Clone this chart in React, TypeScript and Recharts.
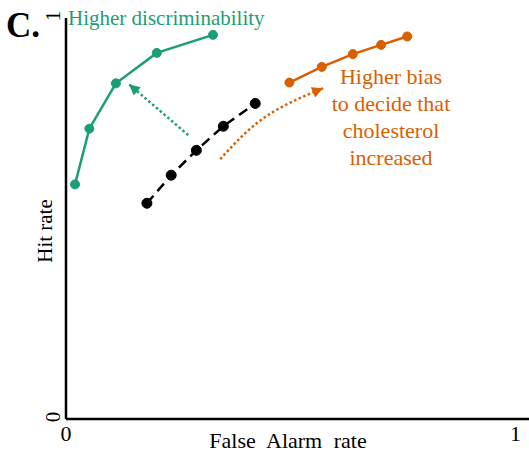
import React from "react";
import { LineChart, Line, XAxis, YAxis, Label } from "recharts";

const GREEN = "#1b9e77";
const ORANGE = "#d95f02";
const FONT = "'Liberation Serif', 'Times New Roman', serif";

// ROC points (false alarm rate, hit rate)
const greenFa = [0.02, 0.052, 0.111, 0.202, 0.327];
const greenHit = [0.585, 0.724, 0.837, 0.913, 0.958];
const blackFa = [0.18, 0.234, 0.29, 0.35, 0.421];
const blackHit = [0.538, 0.608, 0.67, 0.73, 0.787];
const orangeFa = [0.497, 0.569, 0.638, 0.701, 0.759];
const orangeHit = [0.839, 0.878, 0.91, 0.933, 0.954];

// arrows (start -> tip)
const greenArrowFa = [0.272, 0.14];
const greenArrowHit = [0.708, 0.835];
const orangeArrowFa = [0.343, 0.443, 0.572];
const orangeArrowHit = [0.648, 0.753, 0.825];

const xTicks = [0, 1];
const yTicks = [0, 1];
const biasLines = ["Higher bias", "to decide that", "cholesterol", "increased"];

const zip = (xs: number[], ys: number[]) => xs.map((x, i) => ({ x, y: ys[i] }));

const green = zip(greenFa, greenHit);
const black = zip(blackFa, blackHit);
const orange = zip(orangeFa, orangeHit);
const greenArrow = zip(greenArrowFa, greenArrowHit);
const orangeArrow = zip(orangeArrowFa, orangeArrowHit);

export default function App() {
  return (
    <div style={{ position: "absolute", left: 0, top: 0, width: 529, height: 453, background: "#fff" }}>
      <LineChart width={529} height={453} margin={{ top: 18, right: 0, bottom: 0, left: 0 }}>
        <defs>
          <marker id="arrGreen" viewBox="0 0 10 10" refX="10" refY="5" markerWidth="12" markerHeight="11"
            markerUnits="userSpaceOnUse" orient="auto">
            <path d="M0,0 L10,5 L0,10 z" fill={GREEN} />
          </marker>
          <marker id="arrOrange" viewBox="0 0 10 10" refX="10" refY="5" markerWidth="12" markerHeight="11"
            markerUnits="userSpaceOnUse" orient="auto">
            <path d="M0,0 L10,5 L0,10 z" fill={ORANGE} />
          </marker>
        </defs>
        <XAxis type="number" dataKey="x" domain={[0, 1.03]} ticks={xTicks} height={34}
          axisLine={{ stroke: "#000", strokeWidth: 2.5 }} tickLine={false} tickSize={0} tickMargin={6}
          tick={{ fontSize: 22, fill: "#000", fontFamily: FONT }} allowDataOverflow>
          <Label content={() => (
            <text x={288} y={448} textAnchor="middle" style={{ fontSize: 22, fontFamily: FONT, wordSpacing: 6 }} fill="#000">
              False Alarm rate
            </text>
          )} />
        </XAxis>
        <YAxis type="number" dataKey="y" domain={[0, 1]} ticks={yTicks} width={66}
          axisLine={{ stroke: "#000", strokeWidth: 2.5 }} tickLine={false} tickSize={0} tickMargin={13}
          angle={-90} dy={-2}
          tick={{ fontSize: 21, fill: "#000", fontFamily: FONT, textAnchor: "middle", verticalAnchor: "middle" }}>
          <Label content={() => (
            <text x={45} y={231} textAnchor="middle" dominantBaseline="central" style={{ fontSize: 21, fontFamily: FONT }}
              fill="#000" transform="rotate(-90, 45, 231)">
              Hit rate
            </text>
          )} />
        </YAxis>
        <Line data={green} dataKey="y" stroke={GREEN} strokeWidth={2.5} isAnimationActive={false}
          dot={{ r: 4.5, fill: GREEN, stroke: GREEN, strokeWidth: 1 }} activeDot={false} />
        <Line data={black} dataKey="y" stroke="#000" strokeWidth={2.5} strokeDasharray="10 6" isAnimationActive={false}
          dot={{ r: 5, fill: "#000", stroke: "#000", strokeWidth: 1, strokeDasharray: "0" }} activeDot={false} />
        <Line data={orange} dataKey="y" stroke={ORANGE} strokeWidth={2.5} isAnimationActive={false}
          dot={{ r: 4.5, fill: ORANGE, stroke: ORANGE, strokeWidth: 1 }} activeDot={false} />
        <Line data={greenArrow} dataKey="y" stroke={GREEN} strokeWidth={2.5} strokeDasharray="2.5 2.5"
          markerEnd="url(#arrGreen)" isAnimationActive={false} dot={false} activeDot={false} />
        <Line data={orangeArrow} dataKey="y" type="natural" stroke={ORANGE} strokeWidth={2.5} strokeDasharray="2.5 2.5"
          markerEnd="url(#arrOrange)" isAnimationActive={false} dot={false} activeDot={false} />
      </LineChart>
      <svg width={529} height={453} style={{ position: "absolute", left: 0, top: 0, pointerEvents: "none" }}>
        <text x={6} y={37} style={{ fontSize: 35, fontWeight: "bold", fontFamily: FONT }} fill="#000">C.</text>
        <text x={68} y={25} style={{ fontSize: 21, fontFamily: FONT }} fill={GREEN}>Higher discriminability</text>
        {biasLines.map((t, i) => (
          <text key={t} x={391} y={84 + i * 27} textAnchor="middle" style={{ fontSize: 22, fontFamily: FONT }} fill={ORANGE}>
            {t}
          </text>
        ))}
      </svg>
    </div>
  );
}
